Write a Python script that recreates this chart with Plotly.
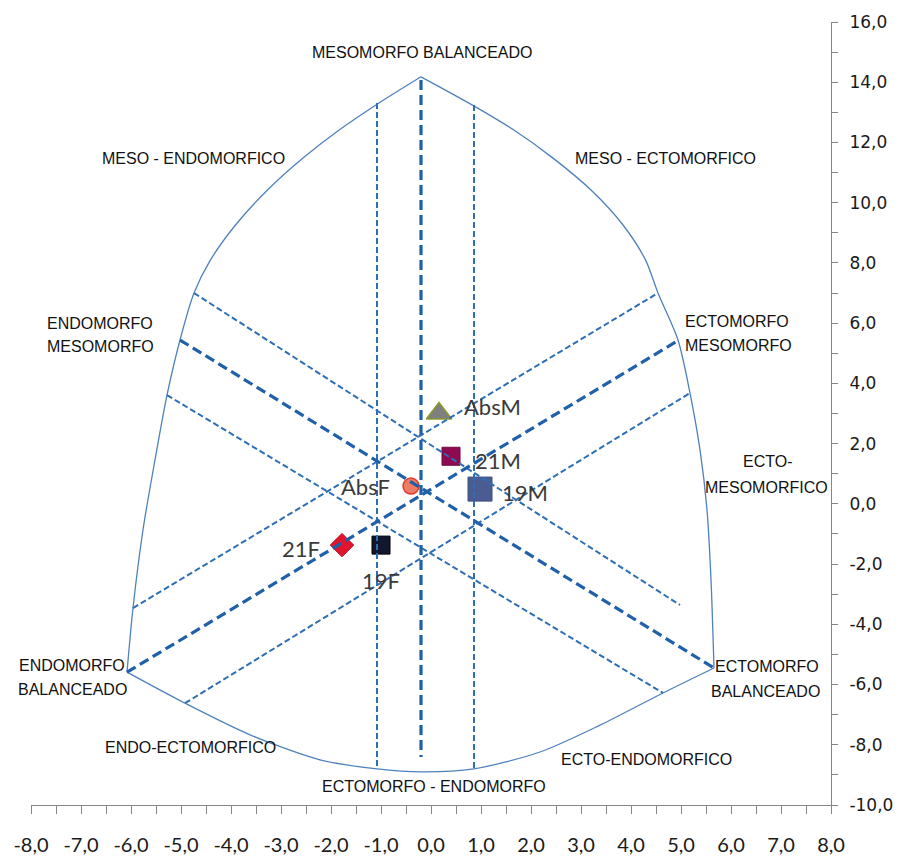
import plotly.graph_objects as go

# ---- Somatochart outline: three smoothed arcs (x = ecto - endo, y = 2*meso - endo - ecto)
left_arc_x = [-0.20, -1.04, -1.83, -2.56, -3.27, -3.91, -4.41, -4.74, -5.02, -5.28, -5.52, -5.76, -5.96, -6.08]
left_arc_y = [14.18, 13.31, 12.42, 11.48, 10.42, 9.26, 8.10, 7.00, 5.44, 3.61, 1.46, -0.86, -3.46, -5.59]

right_arc_x = [-0.20, 0.83, 1.65, 2.44, 3.20, 3.84, 4.29, 4.54, 4.94, 5.18, 5.38, 5.52, 5.60, 5.66]
right_arc_y = [14.18, 13.24, 12.42, 11.48, 10.42, 9.26, 8.10, 7.00, 5.44, 3.68, 1.79, -0.20, -2.52, -5.45]

bottom_arc_x = [-6.08, -4.92, -3.62, -2.22, -1.08, -0.20, 0.86, 2.18, 3.38, 4.64, 5.66]
bottom_arc_y = [-5.59, -6.62, -7.67, -8.50, -8.80, -8.90, -8.80, -8.24, -7.35, -6.28, -5.45]

# ---- Reference axes inside the chart (start / end of each segment)
thick_seg_x = [[-0.20, -0.20], [-5.02, 5.66], [-6.08, 4.96]]
thick_seg_y = [[14.07, -8.41], [5.44, -5.45], [-5.59, 5.44]]

thin_seg_x = [[-1.08, -1.08], [0.86, 0.86], [-4.74, 4.98], [-5.28, 4.64], [-5.96, 4.54], [-4.92, 5.18]]
thin_seg_y = [[13.31, -8.80], [13.24, -8.80], [7.00, -3.36], [3.61, -6.28], [-3.46, 7.00], [-6.62, 3.68]]

# ---- Group somatopoints
groups = ["AbsM", "21M", "19M", "AbsF", "21F", "19F"]
group_x = [0.16, 0.40, 0.98, -0.40, -1.78, -1.00]
group_y = [3.00, 1.58, 0.49, 0.59, -1.37, -1.37]

# ---- Axis tick labels
x_tick_vals = [-8, -7, -6, -5, -4, -3, -2, -1, 0, 1, 2, 3, 4, 5, 6, 7, 8]
x_tick_text = ["-8,0", "-7,0", "-6,0", "-5,0", "-4,0", "-3,0", "-2,0", "-1,0", "0,0",
               "1,0", "2,0", "3,0", "4,0", "5,0", "6,0", "7,0", "8,0"]
y_tick_vals = [-10, -8, -6, -4, -2, 0, 2, 4, 6, 8, 10, 12, 14, 16]
y_tick_text = ["-10,0", "-8,0", "-6,0", "-4,0", "-2,0", "0,0", "2,0", "4,0",
               "6,0", "8,0", "10,0", "12,0", "14,0", "16,0"]

# ---- Region names
region_labels = [
    ("MESOMORFO BALANCEADO", -0.18, 15.00, "center"),
    ("MESO - ENDOMORFICO", -4.76, 11.48, "center"),
    ("MESO - ECTOMORFICO", 4.68, 11.48, "center"),
    ("ENDOMORFO", -6.62, 6.00, "center"),
    ("MESOMORFO", -6.62, 5.21, "center"),
    ("ECTOMORFO", 6.12, 6.07, "center"),
    ("MESOMORFO", 6.14, 5.27, "center"),
    ("ENDO-", -8.26, 0.86, "left"),
    ("MESOMORFICO", -8.28, -0.04, "left"),
    ("ECTO-", 6.72, 1.39, "center"),
    ("MESOMORFICO", 6.70, 0.53, "center"),
    ("ENDOMORFO", -7.18, -5.38, "center"),
    ("BALANCEADO", -7.18, -6.18, "center"),
    ("ECTOMORFO", 6.72, -5.41, "center"),
    ("BALANCEADO", 6.68, -6.24, "center"),
    ("ENDO-ECTOMORFICO", -4.82, -8.10, "center"),
    ("ECTO-ENDOMORFICO", 4.30, -8.50, "center"),
    ("ECTOMORFO - ENDOMORFO", 0.06, -9.40, "center"),
]

fig = go.Figure()

# points (drawn below the reference lines)
marker_styles = [
    dict(symbol="triangle-up", size=22, color="#7f7f7f", line=dict(color="#8a9a2e", width=1.5)),
    dict(symbol="square", size=18, color="#8e0b52", line=dict(color="#6e0840", width=1)),
    dict(symbol="square", size=24, color="#4a5c92", line=dict(color="#3c4c7c", width=1)),
    dict(symbol="circle", size=16, color="#ee7b63", line=dict(color="#e03a30", width=1.5)),
    dict(symbol="diamond", size=18, color="#e0142e", line=dict(color="#b00d20", width=1)),
    dict(symbol="square", size=18, color="#10172e", line=dict(color="#000000", width=1)),
]
for gname, gx, gy, ms in zip(groups, group_x, group_y, marker_styles):
    fig.add_trace(go.Scatter(
        x=[gx], y=[gy], mode="markers", name=gname, marker=ms,
        showlegend=False, hoverinfo="skip", cliponaxis=False,
    ))

# point name placement: (xanchor, xshift px, yshift px)
label_place = [("left", 23, 7), ("left", 22, -4), ("left", 20, -3),
               ("right", -19, 0), ("right", -20, -3), ("center", 0, -35)]
for gname, gx, gy, (anc, dx, dy) in zip(groups, group_x, group_y, label_place):
    fig.add_annotation(
        x=gx, y=gy, text=gname, showarrow=False, xanchor=anc, yanchor="middle",
        xshift=dx, yshift=dy,
        font=dict(family="Lato, Open Sans, sans-serif", size=22, color="#3a3a3a"),
    )

# outline arcs
for ax, ay in [(left_arc_x, left_arc_y), (right_arc_x, right_arc_y), (bottom_arc_x, bottom_arc_y)]:
    fig.add_trace(go.Scatter(
        x=ax, y=ay, mode="lines", line=dict(color="#4f81bd", width=1.3, shape="spline", smoothing=0.8),
        showlegend=False, hoverinfo="skip",
    ))

# thin dashed reference lines
for sx, sy in zip(thin_seg_x, thin_seg_y):
    fig.add_trace(go.Scatter(
        x=sx, y=sy, mode="lines", line=dict(color="#2e6fb4", width=2, dash="6px,3px"),
        showlegend=False, hoverinfo="skip",
    ))

# thick dashed main axes
for sx, sy in zip(thick_seg_x, thick_seg_y):
    fig.add_trace(go.Scatter(
        x=sx, y=sy, mode="lines", line=dict(color="#1f60a8", width=3.2, dash="10px,5px"),
        showlegend=False, hoverinfo="skip",
    ))

for txt, lx, ly, anchor in region_labels:
    fig.add_annotation(
        x=lx, y=ly, text=txt, showarrow=False, xanchor=anchor, yanchor="middle",
        font=dict(family="Liberation Sans Narrow, Liberation Sans, Arial, sans-serif", size=16, color="#111111"),
    )

fig.update_layout(
    width=906, height=864,
    margin=dict(l=31, r=75, t=22, b=59),
    paper_bgcolor="white", plot_bgcolor="white",
    showlegend=False,
    xaxis=dict(
        range=[-8, 8], automargin=False,
        tickmode="array", tickvals=x_tick_vals, ticktext=x_tick_text,
        showgrid=False, zeroline=False,
        showline=True, linecolor="#868686", linewidth=1,
        ticks="outside", ticklen=8, tickcolor="#868686",
        minor=dict(dtick=0.5, tick0=-8, ticks="outside", ticklen=8, tickcolor="#868686", showgrid=False),
        ticklabelstandoff=14,
        tickfont=dict(family="Lato, Open Sans, sans-serif", size=20, color="#1a1a1a"),
    ),
    yaxis=dict(
        range=[-10, 16], automargin=False, side="right",
        tickmode="array", tickvals=y_tick_vals, ticktext=y_tick_text,
        showgrid=False, zeroline=False,
        showline=True, linecolor="#868686", linewidth=1,
        ticks="outside", ticklen=6, tickcolor="#868686",
        minor=dict(dtick=1, tick0=-10, ticks="outside", ticklen=6, tickcolor="#868686", showgrid=False),
        ticklabelstandoff=8,
        tickfont=dict(family="DejaVu Sans", size=17, color="#1a1a1a"),
    ),
)

fig.write_html("out.html")
